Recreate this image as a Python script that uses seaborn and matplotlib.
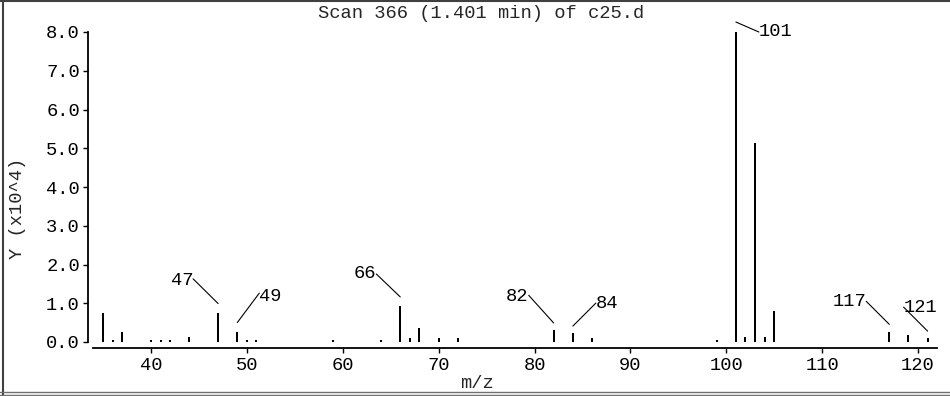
import matplotlib
matplotlib.use("Agg")
import matplotlib.pyplot as plt
import matplotlib.transforms as mtransforms
from matplotlib.lines import Line2D
import pandas as pd
import seaborn as sns

# ---- data (intensity in units of 10^4) ----
mz = [35, 36, 37, 40, 41, 42, 44, 47, 49, 50, 51, 59, 64, 66, 67, 68, 70, 72,
      82, 84, 86, 99, 101, 102, 103, 104, 105, 117, 119, 121]
intensity = [0.76, 0.04, 0.26, 0.04, 0.04, 0.04, 0.13, 0.76, 0.27, 0.05, 0.05,
             0.04, 0.04, 0.93, 0.10, 0.36, 0.10, 0.10, 0.31, 0.23, 0.10, 0.04,
             8.00, 0.14, 5.14, 0.14, 0.81, 0.25, 0.18, 0.10]
labeled_mz = [47, 49, 66, 82, 84, 101, 117, 121]
x_ticks = [40, 50, 60, 70, 80, 90, 100, 110, 120]
y_ticks = [0, 1, 2, 3, 4, 5, 6, 7, 8]
y_tick_labels = ["0.0", "1.0", "2.0", "3.0", "4.0", "5.0", "6.0", "7.0", "8.0"]
title = "Scan 366 (1.401 min) of c25.d"
x_label = "m/z"
y_label = "Y (x10^4)"

# ---- label placement (style): line-start offset in pixels, text side, relpos, gap ----
label_style = {
    47: (-25, 23, "right", (1, 0.6), 9),
    49: (22, 26, "left", (0, 0.7), 9),
    66: (-24, 23, "right", (1, 0.5), 9),
    82: (-25, 26, "right", (1, 0.6), 7),
    84: (23, 23, "left", (0, 0.5), 7),
    101: (23, -10, "left", (0, 0.5), 10),
    117: (-23, 23, "right", (1, 0.5), 8),
    121: (-24, 24, "left", (0, 0.5), 7),
}

sns.set_theme(style="ticks")
plt.rcParams["font.family"] = ["Liberation Mono", "DejaVu Sans Mono"]
FS = 13.5

W, H = 950, 396
fig = plt.figure(figsize=(W / 100, H / 100), dpi=100)
fig.patch.set_facecolor("white")
ax = fig.add_axes([93 / W, 1 - 342 / H, (937 - 93) / W, (342 - 32) / H])
ax.set_facecolor("white")

df = pd.DataFrame({"mz": mz, "intensity": intensity})
ax.vlines(df["mz"], 0, df["intensity"], color="black", lw=1.45)

ax.set_xlim(33.95, 121.98)
ax.set_ylim(0, 8)
ax.set_xticks(x_ticks)
ax.set_xticklabels([str(t) for t in x_ticks])
ax.set_yticks(y_ticks)
ax.set_yticklabels(y_tick_labels)
ax.tick_params(axis="both", direction="out", length=3.8, width=1.0,
               colors="black", labelsize=FS)
ax.tick_params(axis="y", pad=2)
ax.tick_params(axis="x", pad=3)
sns.despine(ax=ax, offset={"left": 3.6, "bottom": 4.3})
for s in ("left", "bottom"):
    ax.spines[s].set_linewidth(1.3)
    ax.spines[s].set_color("black")
ax.set_xlabel("")
ax.set_ylabel("")

# peak labels with leader lines
for m in labeled_mz:
    h = df.loc[df["mz"] == m, "intensity"].iloc[0]
    dx, dy, side, rel, gap = label_style[m]
    tr = mtransforms.offset_copy(ax.transData, fig=fig, x=0, y=gap, units="dots")
    ax.annotate(str(m), xy=(m, h), xycoords=tr, xytext=(dx, dy),
                textcoords="offset pixels", ha=side, va="center",
                fontsize=FS, color="black", annotation_clip=False,
                arrowprops=dict(arrowstyle="-", color="black", lw=0.8,
                                shrinkA=0, shrinkB=0, patchA=None, relpos=rel))

fig.text(481 / W, 1 - 14 / H, title, ha="center", va="center", fontsize=FS)
fig.text(477 / W, 1 - 383 / H, x_label, ha="center", va="center", fontsize=FS)
fig.text(18 / W, 1 - 208 / H, y_label, ha="center", va="center",
         rotation=90, fontsize=FS)

# window-like frame
fig.add_artist(Line2D([3 / W, 3 / W], [0, 1], transform=fig.transFigure,
                      color="#404040", lw=1.5))
fig.add_artist(Line2D([0, 1], [1 - 1 / H, 1 - 1 / H], transform=fig.transFigure,
                      color="#404040", lw=1.5))
fig.add_artist(Line2D([0, 1], [1 - 392 / H, 1 - 392 / H], transform=fig.transFigure,
                      color="#707070", lw=1.0))
fig.add_artist(Line2D([0, 1], [1 - 395 / H, 1 - 395 / H], transform=fig.transFigure,
                      color="#707070", lw=1.0))

fig.savefig("out.png", dpi=100, facecolor="white")
